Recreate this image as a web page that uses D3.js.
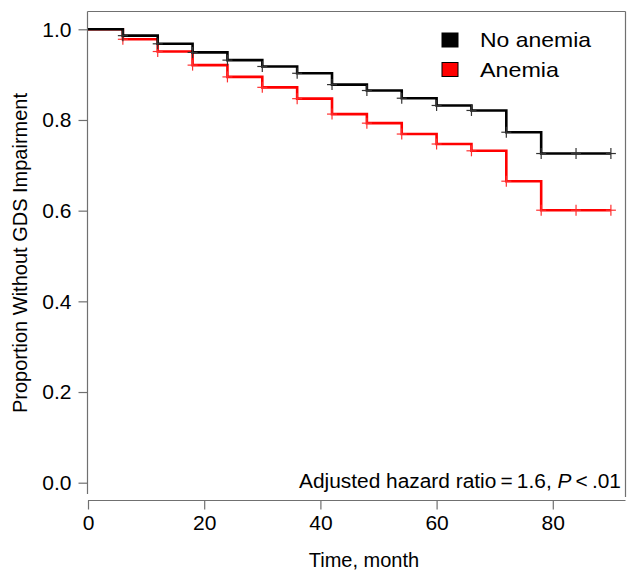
<!DOCTYPE html>
<html>
<head>
<meta charset="utf-8">
<script src="https://cdn.jsdelivr.net/npm/d3@7"></script>
<style>
html,body{margin:0;padding:0;background:#fff;}
svg{display:block;font-family:"Liberation Sans",Arial,Helvetica,sans-serif;}
</style>
</head>
<body>
<svg id="chart" width="629" height="571"></svg>
<script>
const times = [0, 6, 12, 18, 24, 30, 36, 42, 48, 54, 60, 66, 72, 78, 84, 90];
const noAnemia = [1.0, 0.986, 0.968, 0.949, 0.932, 0.918, 0.903, 0.878, 0.865, 0.848, 0.832, 0.821, 0.773, 0.726, 0.726, 0.726];
const anemia   = [1.0, 0.978, 0.951, 0.921, 0.895, 0.872, 0.847, 0.813, 0.793, 0.769, 0.747, 0.732, 0.665, 0.601, 0.601, 0.601];
const seriesNames = ["No anemia", "Anemia"];
const seriesColors = ["#000000", "#ff0000"];
const xTicks = [0, 20, 40, 60, 80];
const yTicks = [0.0, 0.2, 0.4, 0.6, 0.8, 1.0];
const xTitle = "Time, month";
const yTitle = "Proportion Without GDS Impairment";

const svg = d3.select("#chart");
const x = d3.scaleLinear().domain([0, 92.6]).range([88, 626]);
const y = d3.scaleLinear().domain([0, 1]).range([482.7, 29.3]);
const axisColor = "#707070";

// frame
svg.append("line").attr("x1", 87.5).attr("x2", 625.5).attr("y1", 11.5).attr("y2", 11.5).attr("stroke", axisColor).attr("stroke-width", 1.2);
svg.append("line").attr("x1", 625.5).attr("x2", 625.5).attr("y1", 11.5).attr("y2", 497).attr("stroke", axisColor).attr("stroke-width", 1.2);

// y axis
const yAxis = svg.append("g").attr("transform", "translate(87.5,0)")
  .call(d3.axisLeft(y).tickValues(yTicks).tickFormat(d3.format(".1f")).tickSize(9).tickPadding(7));
yAxis.select(".domain").remove();
yAxis.append("line").attr("x1", 0).attr("x2", 0).attr("y1", 11.5).attr("y2", 494).attr("stroke", axisColor).attr("stroke-width", 1.2);
yAxis.selectAll(".tick line").attr("stroke", axisColor).attr("stroke-width", 1.2);
yAxis.selectAll(".tick text").attr("font-size", 21).attr("fill", "#000").attr("font-family", "Liberation Sans, Arial, sans-serif");

// x axis
const xAxis = svg.append("g").attr("transform", "translate(0,500.5)")
  .call(d3.axisBottom(x).tickValues(xTicks).tickFormat(d3.format("d")).tickSize(9).tickPadding(6));
xAxis.select(".domain").remove();
xAxis.append("line").attr("x1", 88).attr("x2", 625.5).attr("y1", 0).attr("y2", 0).attr("stroke", axisColor).attr("stroke-width", 1.2);
xAxis.selectAll(".tick line").attr("stroke", axisColor).attr("stroke-width", 1.2);
xAxis.selectAll(".tick text").attr("font-size", 21).attr("fill", "#000").attr("font-family", "Liberation Sans, Arial, sans-serif");

// titles
svg.append("text").attr("x", x(47.5)).attr("y", 567).attr("text-anchor", "middle")
  .attr("font-size", 20).attr("fill", "#000").text(xTitle);
svg.append("text").attr("transform", "translate(27,253) rotate(-90)").attr("text-anchor", "middle")
  .attr("font-size", 20).attr("fill", "#000").text(yTitle);

// curves
const line = d3.line().x((d) => x(d[0])).y((d) => y(d[1])).curve(d3.curveStepAfter);
const data = [noAnemia, anemia];
[1, 0].forEach((i) => {
  const pts = times.map((t, k) => [t, data[i][k]]);
  svg.append("path").datum(pts).attr("d", line).attr("fill", "none")
    .attr("stroke", seriesColors[i]).attr("stroke-width", 2.6);
  const marks = svg.append("g");
  pts.slice(1).forEach((p) => {
    marks.append("line").attr("x1", x(p[0])).attr("x2", x(p[0]))
      .attr("y1", y(p[1]) - 5.5).attr("y2", y(p[1]) + 5.5)
      .attr("stroke", i === 0 ? "#333" : "#ff3030").attr("stroke-width", 1.2);
    marks.append("line").attr("x1", x(p[0]) - 5).attr("x2", x(p[0]) + 5)
      .attr("y1", y(p[1])).attr("y2", y(p[1]))
      .attr("stroke", i === 0 ? "#333" : "#ff3030").attr("stroke-width", 1.2);
  });
});

// legend
const legend = svg.append("g");
seriesNames.forEach((name, i) => {
  const yy = 33 + i * 29.5;
  legend.append("rect").attr("x", 442).attr("y", yy).attr("width", 16).attr("height", 14)
    .attr("fill", seriesColors[i]).attr("stroke", "#000").attr("stroke-width", 1);
  legend.append("text").attr("x", 480).attr("y", yy + 14.3).attr("font-size", 21).attr("fill", "#000")
    .attr("textLength", i === 0 ? 111 : 79).attr("lengthAdjust", "spacingAndGlyphs").text(name);
});

// annotation
const ann = svg.append("text").attr("x", 299).attr("y", 488)
  .attr("font-size", 20).attr("fill", "#000")
  .attr("textLength", 322).attr("lengthAdjust", "spacingAndGlyphs");
ann.append("tspan").text("Adjusted hazard ratio\u2009=\u20091.6, ");
ann.append("tspan").attr("font-style", "italic").text("P");
ann.append("tspan").text("\u2009<\u2009.01");
</script>
</body>
</html>
